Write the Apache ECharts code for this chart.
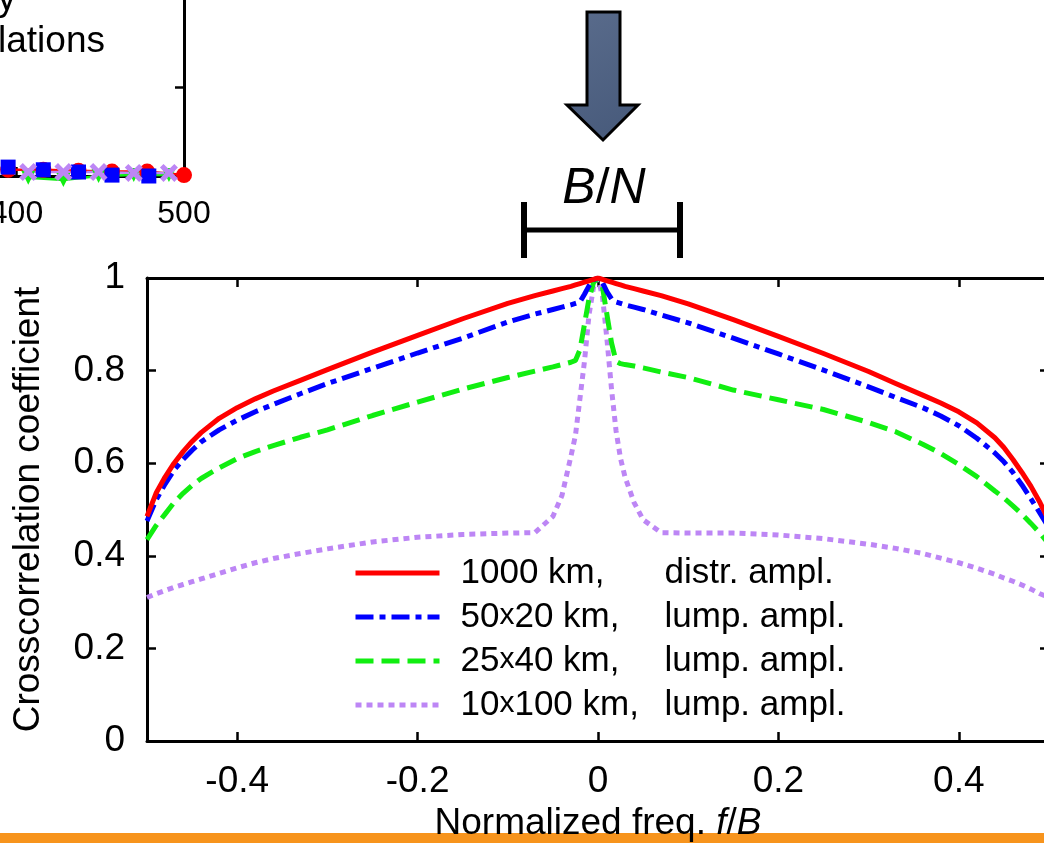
<!DOCTYPE html>
<html>
<head>
<meta charset="utf-8">
<script src="https://cdn.jsdelivr.net/npm/echarts@6/dist/echarts.min.js"></script>
<style>
  html, body { margin: 0; padding: 0; background: #fff; overflow: hidden; }
  #chart { width: 1044px; height: 843px; }
</style>
</head>
<body>
<div id="chart"></div>
<script>
// ---- main plot: crosscorrelation vs normalized frequency ----
const freq = [-0.5, -0.49, -0.48, -0.47, -0.46, -0.45, -0.44, -0.42, -0.4, -0.38, -0.36, -0.33, -0.3, -0.25, -0.2, -0.15, -0.1, -0.07, -0.05, -0.04, -0.03, -0.025, -0.02, -0.015, -0.01, -0.005,
  0,
  0.005, 0.01, 0.015, 0.02, 0.025, 0.03, 0.04, 0.05, 0.07, 0.1, 0.15, 0.2, 0.25, 0.3, 0.33, 0.36, 0.38, 0.4, 0.42, 0.44, 0.45, 0.46, 0.47, 0.48, 0.49, 0.5]

const corr1000 = [0.485, 0.535, 0.57, 0.6, 0.625, 0.647, 0.666, 0.697, 0.72, 0.739, 0.756, 0.779, 0.802, 0.84, 0.876, 0.912, 0.945, 0.962, 0.972, 0.977, 0.982, 0.985, 0.988, 0.991, 0.994, 0.997,
  1.0,
  0.997, 0.994, 0.991, 0.988, 0.985, 0.982, 0.977, 0.972, 0.962, 0.944, 0.91, 0.874, 0.837, 0.798, 0.772, 0.747, 0.73, 0.711, 0.687, 0.655, 0.634, 0.608, 0.58, 0.55, 0.515, 0.475]
const corr50x20 = [0.475, 0.52, 0.555, 0.585, 0.608, 0.628, 0.646, 0.672, 0.693, 0.711, 0.727, 0.75, 0.772, 0.805, 0.838, 0.87, 0.905, 0.922, 0.932, 0.937, 0.942, 0.945, 0.948, 0.965, 0.983, 0.996,
  1.0,
  0.99, 0.97, 0.955, 0.948, 0.945, 0.942, 0.937, 0.932, 0.92, 0.903, 0.87, 0.836, 0.801, 0.765, 0.742, 0.72, 0.702, 0.681, 0.654, 0.622, 0.603, 0.58, 0.553, 0.523, 0.492, 0.46]
const corr25x40 = [0.435, 0.465, 0.49, 0.515, 0.535, 0.552, 0.567, 0.59, 0.61, 0.625, 0.638, 0.656, 0.672, 0.703, 0.732, 0.76, 0.785, 0.799, 0.808, 0.813, 0.818, 0.822, 0.845, 0.9, 0.955, 0.99,
  1.0,
  0.98, 0.92, 0.86, 0.82, 0.815, 0.813, 0.81, 0.806, 0.797, 0.785, 0.758, 0.737, 0.716, 0.688, 0.668, 0.641, 0.621, 0.597, 0.571, 0.54, 0.525, 0.508, 0.49, 0.47, 0.449, 0.425]
const corr10x100 = [0.31, 0.318, 0.325, 0.332, 0.338, 0.344, 0.35, 0.362, 0.374, 0.385, 0.394, 0.405, 0.415, 0.43, 0.44, 0.446, 0.449, 0.45, 0.485, 0.53, 0.615, 0.66, 0.74, 0.82, 0.92, 0.98,
  1.0,
  0.96, 0.866, 0.76, 0.67, 0.61, 0.57, 0.515, 0.478, 0.45, 0.449, 0.449, 0.445, 0.437, 0.425, 0.416, 0.405, 0.395, 0.385, 0.373, 0.36, 0.352, 0.345, 0.337, 0.328, 0.318, 0.31]

const kmLabels = ['1000 km', '50x20 km', '25x40 km', '10x100 km']
const amplLabels = ['distr. ampl.', 'lump. ampl.', 'lump. ampl.', 'lump. ampl.']
const xTicks = [-0.4, -0.2, 0, 0.2, 0.4]

// ---- cut-off plot in the upper left corner ----
const topTicks = [400, 500]
const topRedX = [395, 416, 437, 457, 478, 500]
const topRedY = [0.07, 0.07, 0.06, 0.05, 0.05, 0.01]
const topBlueX = [395, 416, 437, 457, 479]
const topBlueY = [0.1, 0.07, 0.045, 0.01, 0.0]
const topGreenX = [407, 428, 449, 470, 491]
const topGreenY = [-0.02, -0.045, 0.0, 0.01, 0.01]
const topPurpleX = [407, 428, 449, 470, 491]
const topPurpleY = [0.045, 0.045, 0.045, 0.034, 0.034]

const FONT = 'Liberation Sans, Arial, sans-serif'
const pairs = (xs, ys) => xs.map((x, i) => [x, ys[i]])

// legend text: two columns, second one starts at a fixed offset
const ctx = document.createElement('canvas').getContext('2d')
const tw = (s, size) => { ctx.font = size + 'px "Liberation Sans"'; return ctx.measureText(s).width }
const LEG = 35, XS = 30, COL1 = 204
const legendRich = {
  g: { width: 16 },
  n: { fontSize: LEG, lineHeight: 44, color: '#000', fontFamily: FONT },
  x: { fontSize: XS, color: '#000', fontFamily: FONT, padding: [0, 0, 3, 0] },
  c: { fontSize: LEG, lineHeight: 44, color: '#000', fontFamily: FONT },
}
kmLabels.forEach((name, i) => {
  const parts = name.split('x')
  let used = tw(name + ',', LEG)
  if (parts.length > 1) used = tw(parts[0], LEG) + tw('x', XS) + tw(parts[1] + ',', LEG)
  legendRich['p' + i] = { width: Math.max(COL1 - used, 4) }
})
const legendFormatter = (name) => {
  const i = kmLabels.indexOf(name)
  const parts = name.split('x')
  const first = parts.length > 1
    ? `{n|${parts[0]}}{x|x}{n|${parts[1]},}`
    : `{n|${name},}`
  return `{g| }${first}{p${i}| }{c|${amplLabels[i]}}`
}

const chart = echarts.init(document.getElementById('chart'))

const axisBlack = { show: true, onZero: false, lineStyle: { color: '#000', width: 3 } }
const tickIn = (vals) => ({ show: true, inside: true, length: 9, lineStyle: { color: '#000', width: 2.5 }, customValues: vals })
const yTick = { show: true, inside: true, length: 9, lineStyle: { color: '#000', width: 2.5 } }

chart.setOption({
  animation: false,
  textStyle: { fontFamily: FONT },
  grid: [
    { left: 147, right: -5, top: 278, bottom: 102, outerBoundsMode: 'none', containLabel: false },
    { left: -151, right: 860, top: -2, bottom: 667, outerBoundsMode: 'none', containLabel: false },
  ],
  xAxis: [
    {
      type: 'value', gridIndex: 0, min: -0.5, max: 0.5, z: 10,
      axisLine: axisBlack,
      axisTick: tickIn(xTicks),
      axisLabel: { customValues: xTicks, fontSize: 37, color: '#000', margin: 22 },
      splitLine: { show: false },
      name: 'Normalized freq. {i|f}/{i|B}',
      nameLocation: 'middle', nameGap: 64,
      nameTextStyle: { fontSize: 37, color: '#000', rich: { i: { fontSize: 37, fontStyle: 'italic', color: '#000' } } },
    },
    {
      type: 'value', gridIndex: 0, position: 'top', min: -0.5, max: 0.5,
      axisLine: axisBlack,
      axisTick: tickIn(xTicks),
      axisLabel: { show: false },
      splitLine: { show: false },
    },
    {
      type: 'value', gridIndex: 1, min: 300, max: 500, interval: 100,
      axisLine: axisBlack,
      axisTick: tickIn(topTicks),
      axisLabel: { customValues: topTicks, fontSize: 32, color: '#000', margin: 22 },
      splitLine: { show: false },
    },
  ],
  yAxis: [
    {
      type: 'value', gridIndex: 0, position: 'left', min: 0, max: 1, interval: 0.2,
      axisLine: axisBlack,
      axisTick: yTick,
      axisLabel: { fontSize: 37, color: '#000', margin: 22 },
      splitLine: { show: false },
      name: 'Crosscorrelation coefficient',
      nameLocation: 'middle', nameRotate: 90, nameGap: 100,
      nameTextStyle: { fontSize: 37, color: '#000' },
    },
    {
      type: 'value', gridIndex: 0, position: 'right', min: 0, max: 1, interval: 0.2,
      axisLine: axisBlack,
      axisTick: yTick,
      axisLabel: { show: false },
      splitLine: { show: false },
    },
    {
      type: 'value', gridIndex: 1, position: 'right', min: 0, max: 2, interval: 1,
      axisLine: axisBlack,
      axisTick: yTick,
      axisLabel: { show: false },
      splitLine: { show: false },
    },
  ],
  legend: {
    data: kmLabels,
    orient: 'vertical',
    left: 353, top: 551, padding: 0,
    itemWidth: 84, itemHeight: 14, itemGap: 0,
    selectedMode: false,
    formatter: legendFormatter,
    itemStyle: { opacity: 0 },
    lineStyle: { width: 5 },
    textStyle: { fontSize: LEG, color: '#000', lineHeight: 44, rich: legendRich },
  },
  series: [
    {
      name: kmLabels[3], type: 'line', xAxisIndex: 0, yAxisIndex: 0, symbol: 'none', showSymbol: false, z: 2,
      data: pairs(freq, corr10x100),
      lineStyle: { color: '#bd86f5', width: 5, type: [6, 5], cap: 'butt' },
      itemStyle: { color: '#bd86f5' },
    },
    {
      name: kmLabels[2], type: 'line', xAxisIndex: 0, yAxisIndex: 0, symbol: 'none', showSymbol: false, z: 3,
      data: pairs(freq, corr25x40),
      lineStyle: { color: '#11ee11', width: 5, type: [18, 8], cap: 'butt' },
      itemStyle: { color: '#11ee11' },
    },
    {
      name: kmLabels[1], type: 'line', xAxisIndex: 0, yAxisIndex: 0, symbol: 'none', showSymbol: false, z: 4,
      data: pairs(freq, corr50x20),
      lineStyle: { color: '#0000ff', width: 5, type: [18, 6, 6, 6], cap: 'butt' },
      itemStyle: { color: '#0000ff' },
    },
    {
      name: kmLabels[0], type: 'line', xAxisIndex: 0, yAxisIndex: 0, symbol: 'none', showSymbol: false, z: 5,
      data: pairs(freq, corr1000),
      lineStyle: { color: '#ff0000', width: 5, join: 'round' },
      itemStyle: { color: '#ff0000' },
    },
    // upper-left fragment
    {
      name: 'sim-red', type: 'line', xAxisIndex: 2, yAxisIndex: 2, clip: false,
      data: pairs(topRedX, topRedY), symbol: 'circle', symbolSize: 16,
      lineStyle: { color: '#ff0000', width: 2.5 }, itemStyle: { color: '#ff0000' },
    },
    {
      name: 'sim-green', type: 'line', xAxisIndex: 2, yAxisIndex: 2, clip: false,
      data: pairs(topGreenX, topGreenY), symbol: 'triangle', symbolRotate: 180, symbolSize: 14,
      lineStyle: { color: '#11ee11', width: 2.5 }, itemStyle: { color: '#11ee11' },
    },
    {
      name: 'sim-blue', type: 'line', xAxisIndex: 2, yAxisIndex: 2, clip: false,
      data: pairs(topBlueX, topBlueY), symbol: 'rect', symbolSize: 15,
      lineStyle: { width: 0 }, itemStyle: { color: '#0000ff' },
    },
    {
      name: 'sim-purple', type: 'line', xAxisIndex: 2, yAxisIndex: 2, clip: false,
      data: pairs(topPurpleX, topPurpleY),
      symbol: 'path://M2,0 L5,3 L8,0 L10,2 L7,5 L10,8 L8,10 L5,7 L2,10 L0,8 L3,5 L0,2 Z', symbolSize: 18,
      lineStyle: { color: '#bd86f5', width: 2.5 }, itemStyle: { color: '#bd86f5' },
    },
  ],
  graphic: [
    { type: 'rect', z: -10, shape: { x: 0, y: 833, width: 1044, height: 10 }, style: { fill: '#f7941d' } },
    {
      type: 'polygon',
      shape: { points: [[587, 12], [620, 12], [620, 105], [638, 105], [603, 140], [567, 105], [587, 105]] },
      style: {
        fill: { type: 'linear', x: 0, y: 0, x2: 1, y2: 1, colorStops: [{ offset: 0, color: '#5a6c8c' }, { offset: 1, color: '#46597a' }] },
        stroke: '#000', lineWidth: 3,
      },
    },
    { type: 'line', shape: { x1: 524, y1: 230, x2: 680, y2: 230 }, style: { stroke: '#000', lineWidth: 5 } },
    { type: 'line', shape: { x1: 524, y1: 202, x2: 524, y2: 258 }, style: { stroke: '#000', lineWidth: 6 } },
    { type: 'line', shape: { x1: 680, y1: 202, x2: 680, y2: 258 }, style: { stroke: '#000', lineWidth: 6 } },
    {
      type: 'text', x: 604, y: 189,
      style: {
        text: '{i|B}{r|/}{i|N}', align: 'center', verticalAlign: 'middle', fill: '#000',
        fontSize: 50, fontFamily: FONT,
        rich: {
          i: { fontSize: 50, fontStyle: 'italic', fontFamily: FONT, fill: '#000' },
          r: { fontSize: 50, fontFamily: FONT, fill: '#000' },
        },
      },
    },
    { type: 'text', x: 16, y: 0, style: { text: 'by', align: 'right', verticalAlign: 'middle', fontSize: 37, fontFamily: FONT, fill: '#000' } },
    { type: 'text', x: 105, y: 42, style: { text: 'simulations', align: 'right', verticalAlign: 'middle', fontSize: 37, fontFamily: FONT, fill: '#000' } },
  ],
})
</script>
</body>
</html>
